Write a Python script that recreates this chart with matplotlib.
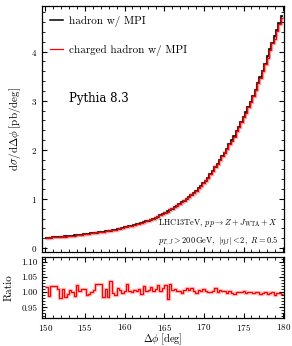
import numpy as np
import matplotlib
matplotlib.use("Agg")
import matplotlib.pyplot as plt
from matplotlib.ticker import MultipleLocator, FormatStrFormatter

plt.rcParams['font.family'] = ['cmr10', 'DejaVu Serif']
plt.rcParams['mathtext.fontset'] = 'cm'
plt.rcParams['axes.formatter.use_mathtext'] = True

# bin edges in delta phi (deg)
edges = np.linspace(150.0, 180.0, 101)

hadron = [
    0.202, 0.207, 0.211, 0.216, 0.220, 0.225, 0.229, 0.234, 0.238, 0.243,
    0.247, 0.252, 0.256, 0.261, 0.267, 0.273, 0.279, 0.285, 0.291, 0.297,
    0.304, 0.311, 0.319, 0.326, 0.334, 0.341, 0.349, 0.357, 0.366, 0.375,
    0.385, 0.396, 0.407, 0.422, 0.434, 0.446, 0.458, 0.470, 0.482, 0.494,
    0.508, 0.525, 0.541, 0.558, 0.578, 0.597, 0.617, 0.640, 0.664, 0.688,
    0.715, 0.745, 0.775, 0.805, 0.835, 0.865, 0.897, 0.932, 0.968, 1.004,
    1.042, 1.083, 1.125, 1.168, 1.215, 1.263, 1.315, 1.372, 1.435, 1.500,
    1.570, 1.645, 1.720, 1.792, 1.868, 1.945, 2.025, 2.110, 2.195, 2.285,
    2.380, 2.475, 2.570, 2.665, 2.765, 2.870, 2.980, 3.100, 3.225, 3.355,
    3.480, 3.615, 3.755, 3.905, 4.045, 4.180, 4.310, 4.440, 4.580, 4.720,
]

ratio = [
    1.016, 0.988, 1.020, 1.021, 1.019, 1.010, 0.980, 1.010, 0.985, 0.994,
    1.008, 1.000, 0.988, 1.022, 1.002, 1.011, 1.011, 0.992, 0.995, 1.000,
    1.006, 1.028, 1.027, 1.026, 0.984, 1.010, 0.985, 1.035, 0.996, 0.992,
    1.012, 1.008, 0.997, 1.003, 1.028, 1.002, 1.000, 1.007, 1.003, 1.010,
    0.995, 1.020, 1.003, 1.008, 1.017, 1.005, 1.010, 1.022, 1.005, 1.012,
    1.024, 0.978, 1.025, 1.008, 1.010, 1.004, 1.002, 0.998, 1.008, 1.014,
    1.006, 1.013, 1.003, 0.998, 1.006, 1.002, 1.010, 1.004, 1.000, 1.001,
    1.004, 1.012, 0.999, 1.006, 1.002, 1.003, 0.998, 1.005, 0.996, 0.994,
    0.999, 1.000, 0.999, 1.002, 0.998, 1.001, 1.000, 0.997, 0.999, 1.000,
    0.995, 0.998, 0.999, 0.993, 0.997, 0.999, 0.990, 0.996, 0.996, 0.993,
]

hadron = np.array(hadron)
ratio = np.array(ratio)
charged = hadron * ratio

fig = plt.figure(figsize=(2.92, 3.46), dpi=100)
ax = fig.add_axes([0.1438, 0.2717, 0.8288, 0.711])
rax = fig.add_axes([0.1438, 0.0809, 0.8288, 0.1763])

# main panel
ax.stairs(hadron, edges, baseline=None, color='0.6', lw=2.4, alpha=0.5)
ax.stairs(charged, edges, baseline=None, color='#ff9999', lw=2.4, alpha=0.5)
ax.stairs(hadron, edges, baseline=None, color='black', lw=1.1, label='hadron w/ MPI')
ax.stairs(charged, edges, baseline=None, color='red', lw=0.9, label='charged hadron w/ MPI')

ax.set_xlim(149.6, 180.1)
ax.set_ylim(-0.08, 4.93)
ax.xaxis.set_major_locator(MultipleLocator(5))
ax.xaxis.set_minor_locator(MultipleLocator(1))
ax.yaxis.set_major_locator(MultipleLocator(1))
ax.yaxis.set_minor_locator(MultipleLocator(0.2))
ax.tick_params(labelbottom=False)
ax.set_ylabel(r'$\mathrm{d}\sigma/\mathrm{d}\Delta\phi\;[\mathrm{pb/deg}]$', fontsize=8, labelpad=6)

leg = ax.legend(loc='upper left', frameon=False, fontsize=8, handlelength=1.2,
                labelspacing=1.6, handletextpad=0.5, borderaxespad=0.3,
                bbox_to_anchor=(0.0, 0.99))

ax.text(0.11, 0.622, 'Pythia 8.3', transform=ax.transAxes, fontsize=8.5,
        family='DejaVu Serif', va='center', ha='left')
ax.text(0.975, 0.119, r'LHC13TeV, $pp\to Z+J_{\mathrm{WTA}}+X$',
        transform=ax.transAxes, fontsize=6, ha='right', va='center')
ax.text(0.975, 0.045, r'$p_{T,J}>200\,\mathrm{GeV},\ |\eta_J|<2,\ R=0.5$',
        transform=ax.transAxes, fontsize=6, ha='right', va='center')

# ratio panel
rax.stairs(ratio, edges, baseline=None, color='#ff9999', lw=2.4, alpha=0.6)
rax.stairs(ratio, edges, baseline=None, color='red', lw=0.9)
rax.set_xlim(149.6, 180.1)
rax.set_ylim(0.915, 1.115)
rax.xaxis.set_major_locator(MultipleLocator(5))
rax.xaxis.set_minor_locator(MultipleLocator(1))
rax.yaxis.set_major_locator(MultipleLocator(0.05))
rax.yaxis.set_minor_locator(MultipleLocator(0.01))
rax.yaxis.set_major_formatter(FormatStrFormatter('%.2f'))
rax.set_ylabel('Ratio', fontsize=8, labelpad=5)
rax.set_xlabel(r'$\Delta\phi\;[\mathrm{deg}]$', fontsize=7.5, labelpad=-1)

for a in (ax, rax):
    a.tick_params(which='both', direction='in', top=True, right=True, labelsize=6.5)
    a.tick_params(which='major', length=3.5, width=0.8)
    a.tick_params(which='minor', length=2, width=0.6)
    for s in a.spines.values():
        s.set_linewidth(0.9)
rax.tick_params(axis='x', pad=3)

fig.savefig('out.png', dpi=100)
